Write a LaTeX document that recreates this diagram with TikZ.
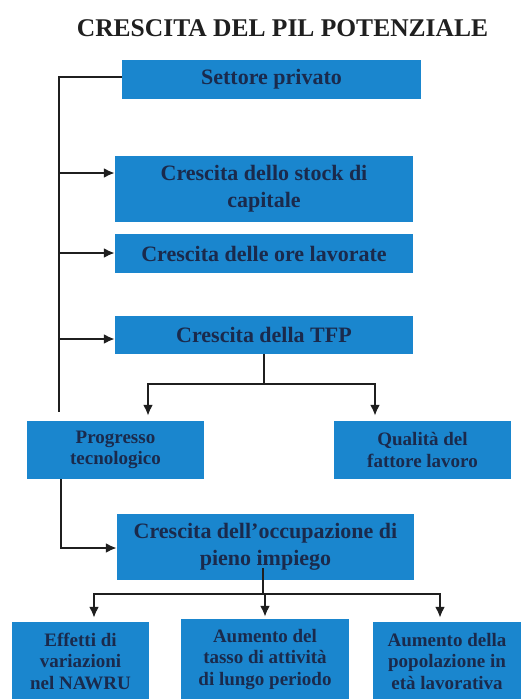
\documentclass[tikz,border=0pt]{standalone}
\usepackage{fontspec}
\setmainfont{Liberation Serif}
\usetikzlibrary{arrows.meta,calc}
\definecolor{boxblue}{HTML}{1A86CE}
\definecolor{navy}{HTML}{1A2A4C}
\begin{document}
\begin{tikzpicture}[x=1pt,y=-1pt,
  box/.style={fill=boxblue, draw=none, inner sep=0pt, align=center, text=navy,
    font=\bfseries\fontsize{22}{27}\selectfont},
  sbox/.style={box, font=\bfseries\fontsize{19}{21.5}\selectfont},
  conn/.style={line width=2.2pt, draw=black!88},
  arr/.style={conn, -{Latex[length=11pt,width=10pt]}}]
\useasboundingbox (0,0) rectangle (521,699);
\fill[white] (0,0) rectangle (521,699);

\node[font=\bfseries\fontsize{25.5}{30}\selectfont, text=black!88] (title) at (282.5,28) {CRESCITA DEL PIL POTENZIALE};

\node[box, minimum width=299pt, minimum height=39pt] (b1) at (271.5,79.5) {Settore privato};
\node[box, minimum width=298pt, minimum height=66pt] (b2) at (264,189) {Crescita dello stock di\\capitale};
\node[box, minimum width=298pt, minimum height=39pt] (b3) at (264,253.5) {Crescita delle ore lavorate};
\node[box, minimum width=298pt, minimum height=38pt] (b4) at (264,335) {Crescita della TFP};

\node[sbox, minimum width=177pt, minimum height=58pt] (prog) at (115.5,450) {Progresso\\tecnologico};
\node[sbox, minimum width=177pt, minimum height=58pt] (qual) at (422.5,450) {Qualità del\\fattore lavoro};

\node[box, minimum width=297pt, minimum height=66pt] (occ) at (265.5,547) {Crescita dell’occupazione di\\pieno impiego};

\node[sbox, minimum width=137pt, minimum height=78pt] (eff) at (80.5,661) {Effetti di\\variazioni\\nel NAWRU};
\node[sbox, minimum width=168pt, minimum height=80pt] (aum1) at (265,659) {Aumento del\\tasso di attività\\di lungo periodo};
\node[sbox, minimum width=148pt, minimum height=78pt] (aum2) at (447,661) {Aumento della\\popolazione in\\età lavorativa};

% left trunk
\coordinate (t1) at (59,77);
\coordinate (tend) at (59,412);
\coordinate (t2) at (59,173);
\coordinate (t3) at (59,253);
\coordinate (t4) at (59,339);
\draw[conn] (b1.west |- t1) -- (t1) -- (tend);
\draw[arr] (t2) -- (t2 -| b2.west);
\draw[arr] (t3) -- (t3 -| b3.west);
\draw[arr] (t4) -- (t4 -| b4.west);

% TFP split
\coordinate (j1) at (264,384);
\draw[conn] (b4.south) -- (j1);
\draw[arr, shorten >=5pt] (j1) -| ([xshift=32.5pt]prog.north);
\draw[arr, shorten >=5pt] (j1) -| ([xshift=-47.5pt]qual.north);

% progresso -> occupazione
\coordinate (p1) at (61,548);
\draw[arr] ([xshift=-54.5pt]prog.south) -- (p1) -- (p1 -| occ.west);

% occupazione split
\coordinate (j2) at (263,594);
\draw[conn] ([xshift=-2.5pt,yshift=12pt]occ.south) -- (j2);
\draw[arr, shorten >=4pt] (j2) -| ([xshift=13.5pt]eff.north);
\draw[arr, shorten >=2pt] (j2) -- (j2 -| aum1.north) -- (aum1.north);
\draw[arr, shorten >=4pt] (j2) -| ([xshift=-7pt]aum2.north);
\end{tikzpicture}
\end{document}
